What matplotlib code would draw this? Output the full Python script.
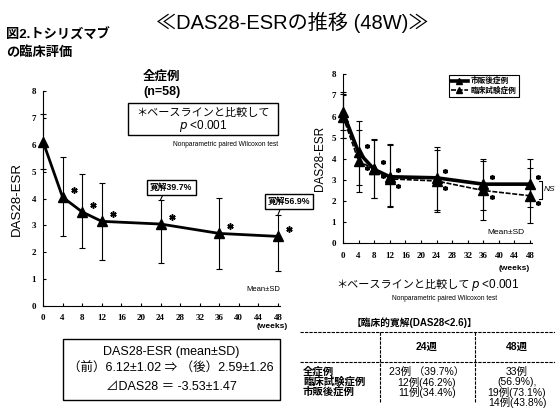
import matplotlib
matplotlib.use("Agg")
import matplotlib.pyplot as plt
from matplotlib.patches import Rectangle
from matplotlib.lines import Line2D
from matplotlib.transforms import offset_copy

# ---------------- data ----------------
weeks = [0, 4, 8, 12, 24, 36, 48]
xticks = list(range(0, 49, 4))
yticks = list(range(0, 9))

# all cases (n=58)
all_mean = [6.12, 4.05, 3.5, 3.15, 3.05, 2.7, 2.59]
all_upper = [7.15, 5.55, 4.9, 4.57, 3.95, 4.02, 3.4]
all_lower = [5.1, 2.62, 2.15, 1.7, 1.6, 1.38, 1.3]

# post-marketing cases (市販後症例)
pm_mean = [6.2, 4.3, 3.5, 3.15, 3.1, 2.8, 2.8]
pm_upper = [7.15, 5.8, 4.95, 4.7, 4.55, 4.0, 4.0]
pm_lower = [5.0, 2.75, 2.15, 1.7, 1.6, 1.6, 1.7]

# clinical trial cases (臨床試験症例)
ct_mean = [6.0, 3.9, 3.5, 3.05, 2.95, 2.5, 2.25]
ct_upper = [7.05, 5.35, 4.9, 4.65, 4.4, 3.9, 3.55]
ct_lower = [5.35, 2.45, 2.15, 1.75, 1.5, 1.1, 0.97]

remission_labels = {24: "寛解39.7%", 48: "寛解56.9%"}

table_rows = ["全症例", "臨床試験症例", "市販後症例"]
table_cols = ["24週", "48週"]
col24 = ["23例 （39.7%）", "12例(46.2%)", "11例(34.4%)"]
col48 = ["33例", "(56.9%),", "19例(73.1%)", "14例(43.8%)"]

# ---------------- style ----------------
JP = ["Liberation Sans", "Noto Sans CJK JP", "DejaVu Sans"]
plt.rcParams["font.family"] = JP
W, H = 555, 412
fig = plt.figure(figsize=(W / 100, H / 100), dpi=100)


def ft(x, y, s, **kw):
    return fig.text(x / W, 1 - y / H, s, **kw)


def fbox(x0, y0, x1, y1, lw=1.0):
    fig.add_artist(Rectangle((x0 / W, 1 - y1 / H), (x1 - x0) / W, (y1 - y0) / H,
                             transform=fig.transFigure, fill=False,
                             edgecolor="black", linewidth=lw))


def fline(xs, ys, lw=0.8, ls="-"):
    fig.add_artist(Line2D([x / W for x in xs], [1 - y / H for y in ys],
                          transform=fig.transFigure, color="black",
                          linewidth=lw, linestyle=ls))


def style_axes(ax):
    for s in ["top", "right"]:
        ax.spines[s].set_visible(False)
    for s in ["left", "bottom"]:
        ax.spines[s].set_linewidth(0.8)
        ax.spines[s].set_linestyle((0, (4, 1)))
    ax.set_xticks(xticks)
    ax.set_yticks(yticks)
    ax.tick_params(direction="in", length=2, width=0.8, pad=6,
                   labelsize=6.5)
    for lab in ax.get_xticklabels() + ax.get_yticklabels():
        lab.set_fontfamily("Liberation Serif")
        lab.set_fontweight("bold")
    ax.tick_params(axis="y", pad=5)


def stars(ax, xs, ys, dx, dy, ms):
    tr = offset_copy(ax.transData, fig=fig, x=dx, y=dy, units="points")
    ax.plot(xs, ys, linestyle="none", marker=(6, 2, 0), markersize=ms,
            markeredgewidth=1.1, color="black", transform=tr, clip_on=False)


# ---------------- titles ----------------
ft(292, 22, "≪DAS28-ESRの推移 (48W)≫", fontsize=14.5, ha="center", va="center")
ft(6, 35, "図2.トシリズマブ", fontsize=9.5, fontweight="bold", ha="left", va="center")
ft(6, 53, "の臨床評価", fontsize=9.5, fontweight="bold", ha="left", va="center")

# ---------------- left chart ----------------
ax1 = fig.add_axes([43 / W, 1 - 306 / H, (280 - 43) / W, (306 - 91) / H])
ax1.set_xlim(0, 48.4)
ax1.set_ylim(0, 8)
style_axes(ax1)
err1 = [[m - lo for m, lo in zip(all_mean, all_lower)],
        [up - m for m, up in zip(all_mean, all_upper)]]
ax1.errorbar(weeks, all_mean, yerr=err1, fmt="none", ecolor="black",
             elinewidth=0.8, capsize=2, capthick=0.8, clip_on=False)
ax1.plot(weeks, all_mean, color="black", linewidth=2, marker="^",
         markersize=7, clip_on=False, zorder=5)
stars(ax1, weeks[1:], all_mean[1:], 8, 5, 4.5)
ax1.set_ylabel("DAS28-ESR", fontsize=9.5, labelpad=6)
for w, m, up in zip(weeks, all_mean, all_upper):
    if w in remission_labels:
        ybox = 4.4 if w == 24 else 3.9
        ax1.annotate(remission_labels[w], xy=(w, up), xytext=(w + 2.2, ybox),
                     textcoords="data", ha="center", va="center",
                     fontsize=6.3, fontweight="bold", annotation_clip=False,
                     bbox=dict(boxstyle="square,pad=0.35", fc="white",
                               ec="black", lw=1),
                     arrowprops=dict(arrowstyle="-", lw=0.8, color="black",
                                     shrinkA=0, shrinkB=0,
                                     relpos=(0.33, 0)))
ax1.text(1.0, 0.6, "Mean±SD", transform=ax1.get_yaxis_transform(),
         ha="right", va="center", fontsize=5.5)
ft(288, 326, "(weeks)", fontsize=6, fontweight="bold", ha="right", va="center")

ft(162, 77, "全症例", fontsize=9, fontweight="bold", ha="center", va="center")
ft(162, 92, "(n=58)", fontsize=9, fontweight="bold", ha="center", va="center")
fbox(128, 103, 278, 135, lw=1)
ft(203, 113, "＊ベースラインと比較して", fontsize=8, ha="center", va="center")
ft(203, 126, "$p$ <0.001", fontsize=8.5, ha="center", va="center")
ft(278, 145, "Nonparametric paired Wilcoxon test", fontsize=4.8, ha="right",
   va="center")

fbox(63, 339, 280, 400, lw=1)
ft(171, 352, "DAS28-ESR (mean±SD)", fontsize=9, ha="center", va="center")
ft(171, 369, "（前）6.12±1.02 ⇒ （後）2.59±1.26", fontsize=9, ha="center",
   va="center")
ft(171, 387, "⊿DAS28 ＝ -3.53±1.47", fontsize=9, ha="center", va="center")

# ---------------- right chart ----------------
ax2 = fig.add_axes([343 / W, 1 - 243.3 / H, (532 - 343) / W, (243.3 - 74.3) / H])
ax2.set_xlim(0, 48.5)
ax2.set_ylim(0, 8)
style_axes(ax2)
errpm = [[m - lo for m, lo in zip(pm_mean, pm_lower)],
         [up - m for m, up in zip(pm_mean, pm_upper)]]
errct = [[m - lo for m, lo in zip(ct_mean, ct_lower)],
         [up - m for m, up in zip(ct_mean, ct_upper)]]
ax2.errorbar(weeks, pm_mean, yerr=errpm, fmt="none", ecolor="black",
             elinewidth=0.8, capsize=2, capthick=0.8, clip_on=False)
ax2.errorbar(weeks, ct_mean, yerr=errct, fmt="none", ecolor="black",
             elinewidth=0.8, capsize=2, capthick=0.8, clip_on=False)
ax2.plot(weeks, pm_mean, color="black", linewidth=2.6, marker="^",
         markersize=6.5, clip_on=False, zorder=5, label="市販後症例")
ax2.plot(weeks, ct_mean, color="black", linewidth=1.2, linestyle=(0, (3, 1)),
         marker="^", markersize=6.5, clip_on=False, zorder=6,
         label="臨床試験症例")
stars(ax2, weeks[1:], pm_mean[1:], 6, 5, 3.5)
stars(ax2, weeks[1:], ct_mean[1:], 6, -5, 3.5)
ax2.plot([50.2, 51.0, 51.0, 50.2], [2.95, 2.95, 2.1, 2.1], color="black",
         lw=0.8, clip_on=False)
ax2.text(51.5, 2.55, "NS", fontsize=6, fontstyle="italic", ha="left",
         va="center", clip_on=False)
ax2.set_ylabel("DAS28-ESR", fontsize=8.5, labelpad=4)
ax2.text(46.5, 0.5, "Mean±SD", ha="right", va="center", fontsize=6)
leg = ax2.legend(loc="upper right", bbox_to_anchor=(0.95, 1.02), fontsize=5.5,
                 handlelength=2.2, handletextpad=0.4, labelspacing=0.2,
                 borderpad=0.3, fancybox=False, edgecolor="black",
                 framealpha=1, markerscale=0.7)
leg.get_frame().set_linewidth(0.8)
for t in leg.get_texts():
    t.set_fontweight("bold")
ft(530, 268, "(weeks)", fontsize=6, fontweight="bold", ha="right", va="center")
ft(470, 285, "＊ベースラインと比較して", fontsize=8, ha="right", va="center")
ft(471, 285, "$p$ <0.001", fontsize=8.5, ha="left", va="center")
ft(445, 298, "Nonparametric paired Wilcoxon test", fontsize=4.8, ha="center",
   va="center")

# ---------------- remission table ----------------
ft(414, 323, "【臨床的寛解(DAS28<2.6)】", fontsize=7, fontweight="bold",
   ha="center", va="center")
fline([300, 555], [332, 332], lw=0.8, ls=(0, (3, 1)))
fline([300, 555], [362, 362], lw=0.8, ls=(0, (3, 1)))
fline([380, 380], [332, 402], lw=0.8, ls=(0, (3, 1)))
fline([475, 475], [332, 402], lw=0.8, ls=(0, (3, 1)))
ft(427, 347, table_cols[0], fontsize=7.5, fontweight="bold", ha="center",
   va="center")
ft(517, 347, table_cols[1], fontsize=7.5, fontweight="bold", ha="center",
   va="center")
row_y = [372, 382, 392]
for y, r, c in zip(row_y, table_rows, col24):
    ft(303, y, r, fontsize=7.5, fontweight="bold", ha="left", va="center")
    ft(427, y, c, fontsize=7.5, ha="center", va="center")
for y, c in zip([372, 382, 392, 402], col48):
    ft(517, y, c, fontsize=7.5, ha="center", va="center")

fig.savefig("out.png", dpi=100)
